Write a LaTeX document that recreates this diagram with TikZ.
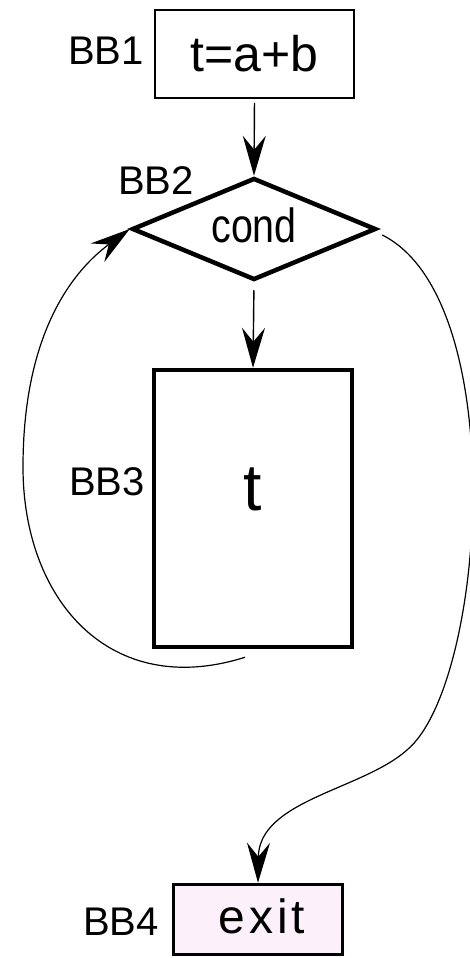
\documentclass[tikz,border=0pt]{standalone}
\usepackage{fontspec}
\setmainfont{Liberation Sans}
\usetikzlibrary{shapes.geometric,arrows.meta}
\definecolor{exitfill}{HTML}{FCF0FA}

\begin{document}
\begin{tikzpicture}[x=1pt,y=-1pt,
  block/.style={draw=black, rectangle, inner sep=0pt},
  tag/.style={inner sep=0pt, font=\fontsize{40}{48}\selectfont},
  tip/.style={-{Stealth[length=40pt,width=23pt,inset=14pt]}},
  flow/.style={line width=1.4pt, tip},
  loopflow/.style={line width=1.2pt, tip},
]
\useasboundingbox (0,0) rectangle (469,958);

% basic blocks
\node[block, line width=1.8pt, minimum width=199pt, minimum height=88pt,
      font=\fontsize{50}{60}\selectfont] (bb1) at (254.5,54) {t=a+b};
\node[diamond, draw=black, line width=4.5pt, aspect=2.4, inner sep=0pt,
      minimum width=244pt, minimum height=102pt, text depth=8pt,
      font=\fontsize{48}{58}\selectfont] (bb2) at (254,229)
      {\scalebox{0.82}[1]{cond}\hspace{13pt}};
\node[block, line width=4.5pt, minimum width=198pt, minimum height=277pt,
      text depth=38pt, font=\fontsize{66}{80}\selectfont] (bb3) at (253,508.5) {t};
\node[block, line width=3.5pt, fill=exitfill, minimum width=169pt, minimum height=70pt,
      text depth=6pt, font=\fontsize{48}{58}\selectfont] (bb4) at (258,919.5)
      {\hspace{8pt}\addfontfeature{LetterSpace=8}exit};

% block names
\node[tag] (l1) at (106,51) {BB1};
\node[tag] (l2) at (156,181) {BB2};
\node[tag] (l3) at (107,482) {BB3};
\node[tag] (l4) at (121,922) {BB4};

% control flow edges
\draw[flow, shorten <=4pt] (bb1.south) -- (bb2.north);
\draw[flow, shorten <=8pt] (bb2.south) -- (bb3.north);
\draw[loopflow] ([xshift=-8pt,yshift=-8pt]bb3.south)
  .. controls (110,700) and (23,600) .. (23,467)
  .. controls (23,337) and (70,273) .. (bb2.west);
\draw[loopflow] ([xshift=4pt,yshift=-6pt]bb2.east)
  .. controls (512,300) and (486,684) .. (407,750)
  .. controls (362,790) and (259,800) .. (bb4.north);
\end{tikzpicture}
\end{document}
